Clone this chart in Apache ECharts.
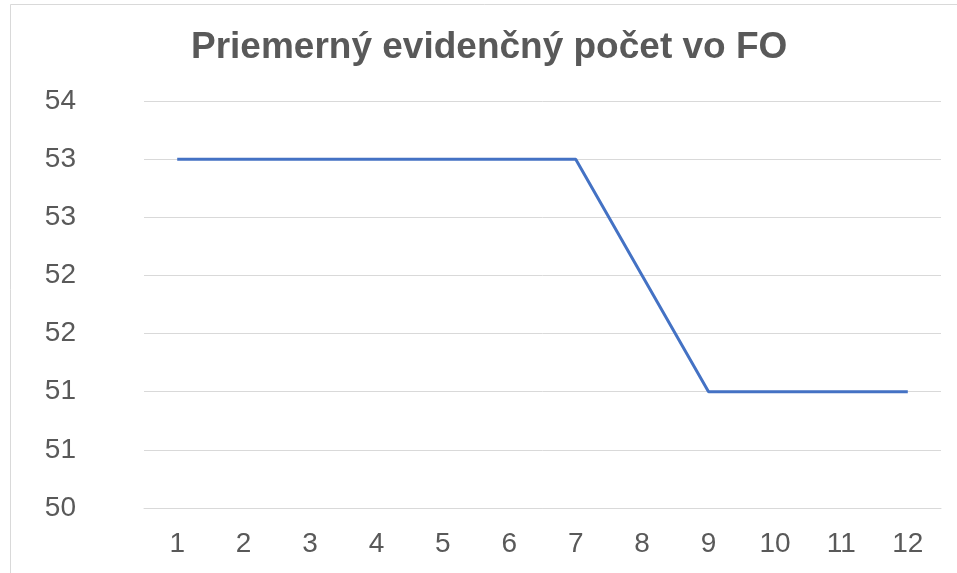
<!DOCTYPE html>
<html lang="sk">
<head>
    <meta charset="UTF-8">
    <title>Priemerný evidenčný počet vo FO</title>
    <script src="https://cdn.jsdelivr.net/npm/echarts@6/dist/echarts.min.js"></script>
</head>
<body style="margin:0">
    <div style="width: 957px; height:573px" id="main"></div>
    <script type="text/javascript">
        var months = ['1','2','3','4','5','6','7','8','9','10','11','12'];
        var pocet = [53, 53, 53, 53, 53, 53, 53, 52, 51, 51, 51, 51];
        var yMin = 50, yMax = 53.5, yStep = 0.5;

        var myChart = echarts.init(document.getElementById('main'));
        var option = {
            backgroundColor: '#fff',
            title: {
                text: 'Priemerný evidenčný počet vo FO',
                left: 191,
                top: 29,
                padding: 0,
                textStyle: {
                    fontFamily: 'Liberation Sans',
                    fontWeight: 'bold',
                    fontSize: 37,
                    color: '#595959'
                }
            },
            graphic: [{
                type: 'rect',
                shape: { x: 10.5, y: 4.5, width: 1000, height: 1000 },
                style: { fill: 'none', stroke: '#d9d9d9', lineWidth: 1 },
                silent: true
            }],
            grid: { left: 144, right: 16, top: 101, bottom: 65 },
            xAxis: {
                type: 'category',
                data: months,
                boundaryGap: true,
                axisLine: { show: true, lineStyle: { color: '#d9d9d9', width: 1 } },
                axisTick: { show: false },
                axisLabel: {
                    margin: 22,
                    fontFamily: 'Liberation Sans',
                    fontSize: 28,
                    color: '#595959'
                }
            },
            yAxis: {
                type: 'value',
                min: yMin,
                max: yMax,
                interval: yStep,
                axisLine: { show: false },
                axisTick: { show: false },
                splitLine: { lineStyle: { color: '#d9d9d9', width: 1 } },
                axisLabel: {
                    margin: 68,
                    fontFamily: 'Liberation Sans',
                    fontSize: 28,
                    color: '#595959',
                    formatter: function (v) { return Math.round(v); }
                }
            },
            series: [{
                name: 'Priemerný evidenčný počet',
                type: 'line',
                data: pocet,
                symbol: 'none',
                lineStyle: { color: '#4472c4', width: 3 },
                itemStyle: { color: '#4472c4' }
            }]
        };
        myChart.setOption(option);
    </script>
</body>
</html>
